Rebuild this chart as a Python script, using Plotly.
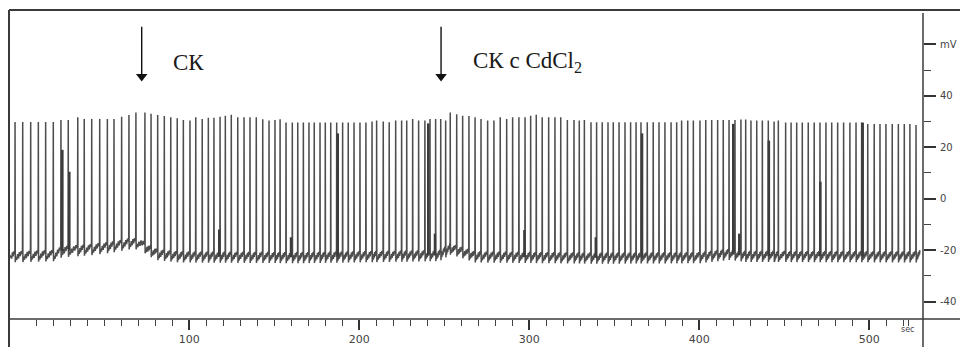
import numpy as np
import plotly.graph_objects as go

# ---------------- data ----------------
# action-potential times (s) and peak potentials (mV)
spike_t = [-2.5, 2.0, 6.7, 11.2, 15.5, 20.0, 24.5, 28.8, 34.4, 38.2, 42.6, 47.3, 51.8, 55.7,
           60.2, 64.5, 68.6, 73.9, 77.5, 81.4, 85.3, 89.1, 92.9, 96.5, 100.4,
           103.8, 107.6, 111.2, 114.5, 118.1, 121.2, 124.7, 128.5, 132.2, 135.7, 139.4,
           143.2, 146.9, 150.4, 153.4, 156.9, 160.6, 163.8, 167.1, 170.4, 173.5, 176.9,
           180.0, 183.2, 186.7, 190.2, 193.5, 196.9, 200.4, 203.9, 207.5, 210.2,
           214.1, 217.6, 221.4, 224.9, 227.9, 231.4, 234.9, 238.6, 241.6, 244.9, 247.9,
           250.8, 253.5, 257.3, 260.8, 264.5, 268.1, 271.6, 275.5, 279.2, 282.9, 286.7,
           290.2, 293.9, 297.5, 300.8, 304.1, 307.6, 311.4, 315.1, 318.5,
           322.4, 326.3, 329.4, 332.4, 336.3, 339.6, 342.9, 346.3, 349.4, 352.8, 356.3,
           359.6, 362.8, 365.7, 369.4, 372.9, 376.3, 379.8, 383.4, 386.7, 389.6, 393.2,
           396.5, 400.4, 403.8, 407.3, 410.8, 414.1, 417.5, 421.0, 424.5, 427.3,
           430.4, 433.8, 437.1, 440.6, 444.0, 446.5, 450.8, 454.0, 457.3, 460.6, 464.1,
           467.6, 471.0, 474.5, 477.9, 481.4, 484.9, 488.6, 492.2, 495.5, 499.1, 502.9,
           506.3, 509.8, 513.5, 517.1, 520.6, 523.9, 527.5]
spike_peak = [29.8, 29.8, 29.8, 29.8, 29.8, 29.8, 30.6, 30.6, 31.7, 31.0, 31.0, 31.0, 31.0, 31.0,
              31.9, 32.6, 33.5, 33.5, 33.0, 32.6, 32.2, 31.7, 31.3, 30.6, 30.4,
              31.7, 31.0, 31.5, 31.5, 31.9, 32.3, 32.7, 31.7, 31.7, 31.7, 31.7,
              30.9, 30.4, 30.6, 30.9, 29.6, 29.6, 29.6, 29.6, 29.6, 29.6, 29.6,
              29.6, 29.6, 29.6, 29.6, 29.6, 29.6, 29.6, 29.6, 30.0, 30.4,
              30.0, 29.7, 30.4, 30.4, 30.4, 31.0, 30.4, 30.4, 31.0, 31.0, 31.0,
              30.4, 33.5, 32.8, 32.3, 32.2, 31.7, 31.0, 30.4, 30.4, 31.7, 31.0,
              31.7, 31.7, 31.7, 32.3, 32.7, 31.7, 31.7, 31.7, 31.7,
              30.6, 30.6, 30.4, 30.6, 29.7, 29.7, 29.7, 29.7, 29.7, 29.7, 29.7,
              29.7, 29.7, 29.7, 29.7, 29.7, 29.7, 29.7, 29.7, 29.7, 30.4, 30.4,
              30.4, 30.4, 30.6, 30.6, 30.6, 30.6, 30.6, 30.6, 30.8, 30.8,
              30.4, 30.4, 30.4, 30.4, 30.0, 30.4, 29.6, 29.6, 29.6, 29.6, 29.6,
              29.6, 29.6, 29.6, 29.6, 29.6, 29.6, 29.6, 29.6, 29.6, 29.1, 29.1,
              29.1, 29.1, 29.1, 29.1, 29.1, 29.1, 28.7]

# doubled / partial spikes (drawn darker)
burst_t = [25.3, 29.4, 187.3, 240.6, 366.3, 420.0, 440.9, 471.2, 496.1]
burst_peak = [19.0, 10.5, 25.4, 29.3, 25.4, 29.1, 22.6, 6.6, 29.6]

# small sub-threshold humps
bump_t = [117.6, 159.8, 244.5, 297.1, 339.1, 423.5]
bump_peak = [-12.0, -15.0, -13.6, -12.2, -15.0, -13.6]

# resting level of the trace (mV) at several times (s)
base_t = [-6.1, 21.0, 25.0, 40.4, 53.0, 66.0, 71.0, 76.0, 81.6, 94.5, 165.0, 247.0,
          253.4, 259.0, 268.0, 341.6, 400.0, 418.0, 427.0, 530.0]
base_mv = [-21.5, -21.0, -19.5, -18.8, -17.8, -16.3, -16.5, -19.0, -20.7, -21.5, -21.8, -21.0,
           -18.5, -19.5, -21.5, -22.0, -21.8, -20.5, -21.3, -21.5]

# drug applications
event_t = [72.0, 248.1]
event_label = ["СК", "СК с CdCl<sub>2</sub>"]
arrow_top_mv, arrow_head_mv = 66.9, 47.5

x_ticks = [100, 200, 300, 400, 500]
y_ticks = [-40, -20, 0, 20, 40, 60]
y_tick_text = ["-40", "-20", "0", "20", "40", "mV"]

T0, T_END = -6.1, 529.8

# ---------------- build the trace ----------------
def base(t):
    return float(np.interp(t, base_t, base_mv))

AHP = -3.3
OSC = [(0.12, -1.2), (0.22, -2.4), (0.34, -0.2), (0.45, -1.8), (0.57, 0.6),
       (0.68, -1.0), (0.80, 1.0), (0.90, -0.2), (0.97, 1.5)]

xs, ys = [T0], [base(T0)]
for f, dv in OSC[3:]:
    tt = T0 + f * (spike_t[0] - T0)
    xs.append(tt); ys.append(base(tt) + dv)
n = len(spike_t)
for i in range(n):
    t, p = spike_t[i], spike_peak[i]
    nxt = spike_t[i + 1] if i + 1 < n else T_END
    d = nxt - t
    xs += [t, t + 0.12]
    ys += [p, base(t) + AHP]
    for f, dv in OSC:
        tt = t + f * d
        xs.append(tt); ys.append(base(tt) + dv)

bx, by = [], []
for t, p in zip(burst_t, burst_peak):
    bx += [t, t, None]; by += [base(t) - 1.0, p, None]
sx, sy = [], []
for t, p in zip(bump_t, bump_peak):
    sx += [t, t, None]; sy += [base(t) - 1.0, p, None]

TRACE = "#4d4d4d"
fig = go.Figure()
fig.add_trace(go.Scatter(x=xs, y=ys, mode="lines", line=dict(color=TRACE, width=1.5),
                         hoverinfo="skip", showlegend=False))
fig.add_trace(go.Scatter(x=bx, y=by, mode="lines", line=dict(color="#3c3c3c", width=2.6),
                         hoverinfo="skip", showlegend=False))
fig.add_trace(go.Scatter(x=sx, y=sy, mode="lines", line=dict(color="#3c3c3c", width=2.4),
                         hoverinfo="skip", showlegend=False))

# ---------------- arrows & labels ----------------
ax_, ay_ = [], []
for t in event_t:
    ax_ += [t, t, None]; ay_ += [arrow_top_mv, arrow_head_mv, None]
fig.add_trace(go.Scatter(x=ax_, y=ay_, mode="lines", line=dict(color="#111111", width=1.4),
                         hoverinfo="skip", showlegend=False))
fig.add_trace(go.Scatter(x=event_t, y=[arrow_head_mv] * len(event_t), mode="markers",
                         marker=dict(symbol="triangle-down", size=10, color="#111111",
                                     line=dict(width=0)),
                         hoverinfo="skip", showlegend=False))
for t, lab in zip(event_t, event_label):
    fig.add_annotation(x=t + 17.5, y=53.0, xref="x", yref="y", text=lab, showarrow=False,
                       xanchor="left", yanchor="middle",
                       font=dict(family="Liberation Serif", size=23, color="#1a1a1a"))

fig.add_annotation(x=523, y=-0.033, xref="x", yref="paper", text="sec", showarrow=False,
                   xanchor="center", yanchor="middle",
                   font=dict(family="DejaVu Sans", size=8, color="#444"))

# ---------------- frame lines ----------------
LINE = "#3a3a3a"
fig.add_shape(type="line", xref="paper", yref="paper", x0=0, x1=1.045, y0=1, y1=1,
              line=dict(color=LINE, width=2))
fig.add_shape(type="line", xref="paper", yref="paper", x0=0, x1=0, y0=1, y1=-0.1,
              line=dict(color=LINE, width=2))
fig.add_shape(type="line", xref="paper", yref="paper", x0=0, x1=1.045, y0=0, y1=0,
              line=dict(color=LINE, width=1.5))
fig.add_shape(type="line", xref="paper", yref="paper", x0=1, x1=1, y0=0.99, y1=-0.1,
              line=dict(color=LINE, width=1.5))

minor_x = [v for v in range(10, 530, 10) if v % 100 != 0] + [523]
fig.update_layout(
    width=960, height=347,
    margin=dict(l=9, r=37, t=10, b=28),
    paper_bgcolor="white", plot_bgcolor="white",
    showlegend=False,
    xaxis=dict(range=[-6.06, 531.6], showgrid=False, zeroline=False, showline=False,
               tickvals=x_ticks, ticktext=[str(v) for v in x_ticks],
               ticks="outside", ticklen=10, tickwidth=2, tickcolor="#333",
               minor=dict(tickvals=minor_x, ticks="outside", ticklen=6, tickwidth=1,
                          tickcolor="#444", showgrid=False),
               tickfont=dict(family="DejaVu Sans", size=11, color="#444"),
               ticklabelstandoff=0, automargin=False, fixedrange=True),
    yaxis=dict(range=[-46.8, 73.4], side="right", showgrid=False, zeroline=False,
               showline=False, tickvals=y_ticks, ticktext=y_tick_text,
               ticks="outside", ticklen=12, tickwidth=2, tickcolor="#333",
               minor=dict(tickvals=[-30, -10, 10, 30, 50], ticks="outside", ticklen=7,
                          tickwidth=1, tickcolor="#444", showgrid=False),
               tickfont=dict(family="DejaVu Sans", size=10, color="#444"),
               ticklabelstandoff=2, automargin=False, fixedrange=True),
)

fig.write_html("out.html", config={"displayModeBar": False})

# remove the browser's default page margin so the figure sits at the window's corner
with open("out.html", encoding="utf-8") as fh:
    page = fh.read()
page = page.replace("<body>", '<body style="margin:0;padding:0;overflow:hidden">', 1)
with open("out.html", "w", encoding="utf-8") as fh:
    fh.write(page)
